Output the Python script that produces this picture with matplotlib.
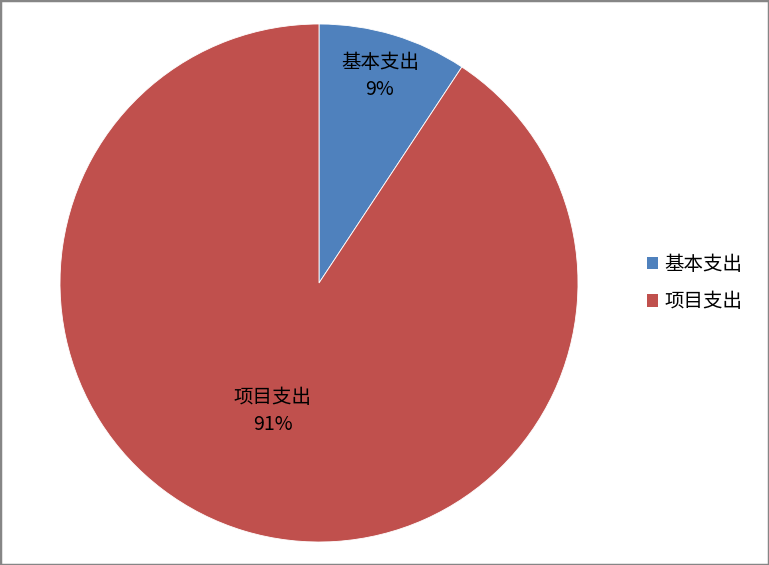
import matplotlib
matplotlib.use("Agg")
import matplotlib.pyplot as plt
from matplotlib.patches import Rectangle, Patch

plt.rcParams['font.family'] = ['Noto Sans CJK SC', 'DejaVu Sans']

categories = ['基本支出', '项目支出']
values = [9.3, 90.7]
colors = ['#4F81BD', '#C0504D']

W, H = 769, 565
fig = plt.figure(figsize=(W / 100, H / 100), dpi=100)

cx, cy, r = 319, 283, 259
ax = fig.add_axes([(cx - r) / W, (H - cy - r) / H, 2 * r / W, 2 * r / H])
wedges, _ = ax.pie(values, colors=colors, startangle=90, counterclock=False,
                   radius=1, wedgeprops=dict(edgecolor='white', linewidth=0.6))
ax.set_xlim(-1, 1)
ax.set_ylim(-1, 1)
ax.set_aspect('equal')
ax.axis('off')

total = sum(values)
label_pos = [(0.235, 0.80), (-0.178, -0.495)]
for cat, v, (x, y) in zip(categories, values, label_pos):
    ax.text(x, y, f"{cat}\n{v / total * 100:.0f}%", ha='center', va='center',
            fontsize=14, linespacing=1.35, color='black')

handles = [Patch(facecolor=c, edgecolor='none') for c in colors]
fig.legend(handles, categories, loc='center left', bbox_to_anchor=(629 / W, 1 - 283 / H),
           frameon=False, fontsize=14, handlelength=0.6, handleheight=0.6,
           handletextpad=0.3, labelspacing=0.85)

fig.patches.append(Rectangle((0, 0), 1, 1, transform=fig.transFigure, fill=False,
                             edgecolor='#868686', linewidth=2.5, zorder=10))

fig.savefig('out.png', dpi=100)
